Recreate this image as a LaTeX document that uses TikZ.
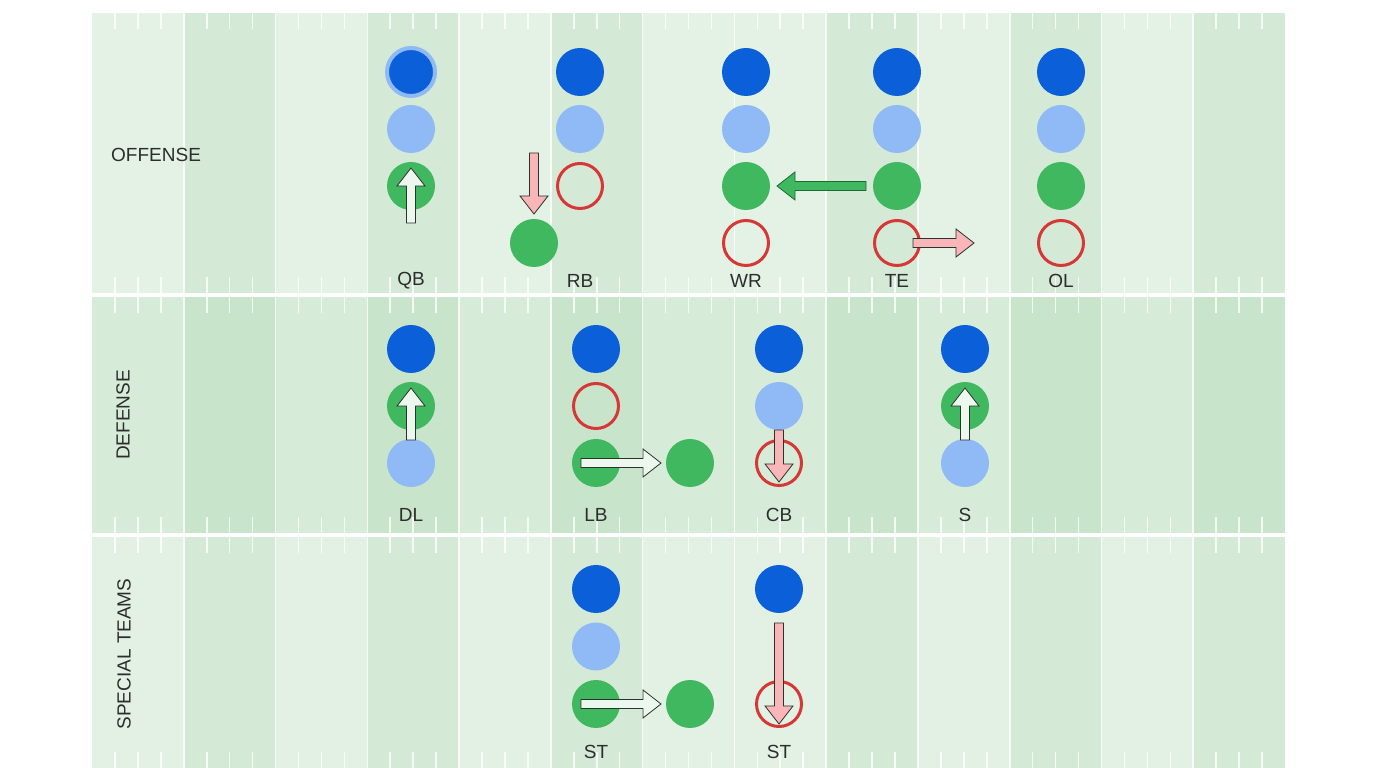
\documentclass[tikz,border=0pt]{standalone}
\usepackage{fontspec}
\setmainfont{Liberation Sans}
\usepackage{xcolor}
\definecolor{offlight}{RGB}{227,242,228}
\definecolor{offdark}{RGB}{212,234,214}
\definecolor{deflight}{RGB}{214,236,216}
\definecolor{defdark}{RGB}{200,229,203}
\definecolor{stlight}{RGB}{226,241,227}
\definecolor{stdark}{RGB}{212,234,214}
\definecolor{mydarkblue}{RGB}{11,95,217}
\definecolor{mylightblue}{RGB}{143,186,245}
\definecolor{mygreen}{RGB}{64,184,96}
\definecolor{mydarkred}{RGB}{214,55,55}
\definecolor{labelgray}{RGB}{45,45,45}
\definecolor{arrowline}{RGB}{45,50,45}
\definecolor{arrowgreenline}{RGB}{30,105,55}
\definecolor{arrowwhite}{RGB}{236,247,238}
\definecolor{arrowpink}{RGB}{248,182,184}
\usepackage{tikz}
\usetikzlibrary{calc}
\newcommand{\colw}{91.77}
\newcommand{\rowgap}{57}
\newcommand{\dotsize}{48pt}
\tikzset{
    player/.style={circle, inner sep=0pt, minimum size=\dotsize},
    starter/.style={player, fill=mydarkblue},
    backup/.style={player, fill=mylightblue},
    active/.style={player, fill=mygreen},
    vacant/.style={player, draw=mydarkred, line width=3pt, minimum size=45pt},
    captain/.style={starter, draw=mylightblue, line width=4pt},
    poslabel/.style={text=labelgray, inner sep=0pt, font=\fontsize{19}{22}\selectfont},
    unitlabel/.style={poslabel, rotate=90},
    yardline/.style={white, opacity=.8, line width=1.6pt},
    blockarrow/.style={draw=arrowline, line width=.8pt, line join=miter},
    keep/.style={blockarrow, fill=arrowwhite},
    switch/.style={blockarrow, fill=mygreen, draw=arrowgreenline},
    drop/.style={blockarrow, fill=arrowpink}
}
% outlined block arrow from #2 to #3
\newcommand{\blockarrow}[3][]{%
    \path[blockarrow, #1] let \p1=(#2), \p2=(#3), \p3=($(\p2)!18pt!(\p1)$) in
        ($(\p1)!4.5pt!90:(\p2)$) -- ($(\p3)!4.5pt!-90:(\p1)$) -- ($(\p3)!14pt!-90:(\p1)$)
        -- (\p2) -- ($(\p3)!14pt!90:(\p1)$) -- ($(\p3)!4.5pt!90:(\p1)$)
        -- ($(\p1)!4.5pt!-90:(\p2)$) -- cycle;
}
\begin{document}
\begin{tikzpicture}[x=1pt, y=1pt]
    \useasboundingbox (0,0) rectangle (1376,768);

    % field bands
    \foreach \ylo/\yhi/\lt/\dk in {475/755/offlight/offdark, 235/471/deflight/defdark, 0/231/stlight/stdark}{
        \fill[\lt] (92,\ylo) rectangle (1285,\yhi);
        \foreach \i in {1,3,5,8,10,12}
            \fill[\dk] ({92+\i*\colw},\ylo) rectangle ({92+(\i+1)*\colw},\yhi);
        \foreach \i in {1,...,12}
            \draw[yardline] ({92+\i*\colw},\ylo) -- ({92+\i*\colw},\yhi);
        \foreach \i in {0,...,12}
            \foreach \f in {.25,.5,.75}{
                \draw[yardline] ({92+(\i+\f)*\colw},\yhi) -- ++(0,-16);
                \draw[yardline] ({92+(\i+\f)*\colw},\ylo) -- ++(0,16);
            }
    }

    \node[poslabel, anchor=west] (offense) at (111,613) {OFFENSE};
    \node[unitlabel] (defense) at (123,353) {DEFENSE};
    \node[unitlabel] (special) at (124,114) {SPECIAL TEAMS};

    % offense
    \path (411,696) node[captain] (qb1) {}
        ++(270:\rowgap) node[backup] (qb2) {}
        ++(270:\rowgap) node[active] (qb3) {}
        ++(270:95) node[poslabel] (qb-label) {QB};
    \path (580,696) node[starter] (rb1) {}
        ++(270:\rowgap) node[backup] (rb2) {}
        ++(270:\rowgap) node[vacant] (rb3) {}
        ++(270:95) node[poslabel] (rb-label) {RB};
    \node[active] (rb-move) at (534,525) {};
    \path (746,696) node[starter] (wr1) {}
        ++(270:\rowgap) node[backup] (wr2) {}
        ++(270:\rowgap) node[active] (wr3) {}
        ++(270:\rowgap) node[vacant] (wr4) {}
        ++(270:38) node[poslabel] (wr-label) {WR};
    \path (897,696) node[starter] (te1) {}
        ++(270:\rowgap) node[backup] (te2) {}
        ++(270:\rowgap) node[active] (te3) {}
        ++(270:\rowgap) node[vacant] (te4) {}
        ++(270:38) node[poslabel] (te-label) {TE};
    \path (1061,696) node[starter] (ol1) {}
        ++(270:\rowgap) node[backup] (ol2) {}
        ++(270:\rowgap) node[active] (ol3) {}
        ++(270:\rowgap) node[vacant] (ol4) {}
        ++(270:38) node[poslabel] (ol-label) {OL};

    % defense
    \path (411,419) node[starter] (dl1) {}
        ++(270:\rowgap) node[active] (dl2) {}
        ++(270:\rowgap) node[backup] (dl3) {}
        ++(270:52) node[poslabel] (dl-label) {DL};
    \path (596,419) node[starter] (lb1) {}
        ++(270:\rowgap) node[vacant] (lb2) {}
        ++(270:\rowgap) node[active] (lb3) {}
        ++(270:52) node[poslabel] (lb-label) {LB};
    \node[active] (lb-move) at (690,305) {};
    \path (779,419) node[starter] (cb1) {}
        ++(270:\rowgap) node[backup] (cb2) {}
        ++(270:\rowgap) node[vacant] (cb3) {}
        ++(270:52) node[poslabel] (cb-label) {CB};
    \path (965,419) node[starter] (s1) {}
        ++(270:\rowgap) node[active] (s2) {}
        ++(270:\rowgap) node[backup] (s3) {}
        ++(270:52) node[poslabel] (s-label) {S};

    % special teams
    \path (596,179) node[starter] (st1) {}
        ++(270:57.5) node[backup] (st2) {}
        ++(270:57.5) node[active] (st3) {}
        ++(270:48) node[poslabel] (st-label) {ST};
    \node[active] (st-move) at (690,64) {};
    \path (779,179) node[starter] (kr1) {}
        ++(270:115) node[vacant] (kr3) {}
        ++(270:48) node[poslabel] (kr-label) {ST};

    % moves
    \blockarrow[keep]{$(qb3)+(0,-37)$}{$(qb3)+(0,18)$}
    \blockarrow[drop]{$(rb-move)+(0,90)$}{$(rb-move)+(0,29)$}
    \blockarrow[switch]{$(te3)+(-31,0)$}{$(wr3)+(31,0)$}
    \blockarrow[drop]{$(te4)+(16,0)$}{$(te4)+(77,0)$}
    \blockarrow[keep]{$(dl3)+(0,23)$}{$(dl2)+(0,18)$}
    \blockarrow[keep]{$(lb3)+(-15,0)$}{$(lb-move)+(-29,0)$}
    \blockarrow[drop]{$(cb2)+(0,-24)$}{$(cb3)+(0,-19)$}
    \blockarrow[keep]{$(s3)+(0,23)$}{$(s2)+(0,18)$}
    \blockarrow[keep]{$(st3)+(-15,0)$}{$(st-move)+(-29,0)$}
    \blockarrow[drop]{$(kr1)+(0,-34)$}{$(kr3)+(0,-20)$}
\end{tikzpicture}
\end{document}
